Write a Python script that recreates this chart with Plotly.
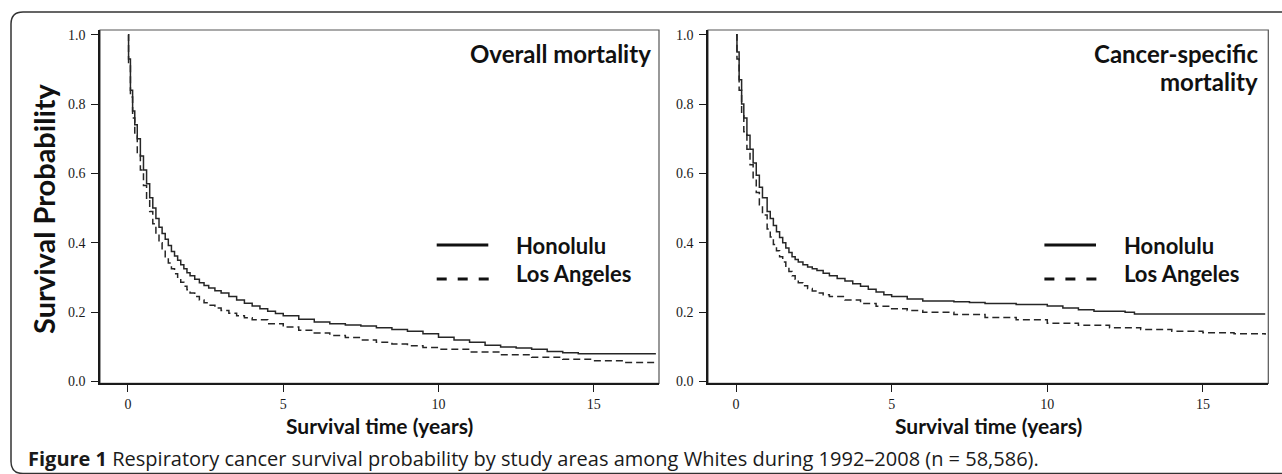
import plotly.graph_objects as go

# ---------------- data ----------------
# Overall mortality panel
om_hon_t = [0, 0.02, 0.08, 0.15, 0.22, 0.3, 0.4, 0.5, 0.6, 0.7, 0.8, 0.9, 1.0, 1.1, 1.2, 1.3, 1.4, 1.5, 1.6, 1.7,
            1.8, 1.9, 2.0, 2.15, 2.3, 2.45, 2.6, 2.8, 3.0, 3.25, 3.5, 3.75, 4.0, 4.25, 4.5, 4.75, 5.0, 5.5, 6.0, 6.5,
            7.0, 7.5, 8.0, 8.5, 9.0, 9.5, 10.0, 10.5, 11.0, 11.5, 12.0, 12.5, 13.0, 13.5, 14.0, 14.5, 17.0]
om_hon_s = [1.0, 0.93, 0.84, 0.78, 0.74, 0.70, 0.65, 0.61, 0.57, 0.53, 0.50, 0.47, 0.445, 0.427, 0.41, 0.392, 0.375,
            0.362, 0.35, 0.337, 0.325, 0.314, 0.305, 0.295, 0.285, 0.277, 0.27, 0.262, 0.255, 0.245, 0.235, 0.226,
            0.218, 0.21, 0.203, 0.196, 0.19, 0.18, 0.172, 0.167, 0.163, 0.16, 0.155, 0.15, 0.145, 0.138, 0.128,
            0.12, 0.113, 0.105, 0.10, 0.097, 0.093, 0.087, 0.083, 0.08, 0.08]
om_la_t = [0, 0.02, 0.08, 0.15, 0.22, 0.3, 0.4, 0.5, 0.6, 0.7, 0.8, 0.9, 1.0, 1.1, 1.2, 1.3, 1.4, 1.5, 1.6, 1.7,
           1.8, 1.9, 2.0, 2.15, 2.3, 2.45, 2.6, 2.8, 3.0, 3.25, 3.5, 3.75, 4.0, 4.5, 5.0, 5.5, 6.0, 6.5, 7.0, 7.5,
           8.0, 8.5, 9.0, 9.5, 10.0, 11.0, 12.0, 13.0, 14.0, 15.0, 16.0, 17.0]
om_la_s = [1.0, 0.92, 0.82, 0.76, 0.71, 0.66, 0.61, 0.565, 0.525, 0.49, 0.455, 0.425, 0.40, 0.38, 0.36, 0.342, 0.325,
           0.311, 0.298, 0.286, 0.275, 0.265, 0.255, 0.245, 0.235, 0.227, 0.22, 0.212, 0.205, 0.197, 0.19, 0.184,
           0.178, 0.167, 0.157, 0.148, 0.14, 0.133, 0.127, 0.12, 0.113, 0.108, 0.103, 0.098, 0.093, 0.085, 0.077,
           0.07, 0.064, 0.06, 0.055, 0.052]

# Cancer-specific mortality panel
cs_hon_t = [0, 0.03, 0.1, 0.18, 0.25, 0.35, 0.45, 0.55, 0.65, 0.75, 0.85, 1.0, 1.1, 1.2, 1.3, 1.4, 1.5, 1.6, 1.7,
            1.8, 1.9, 2.0, 2.15, 2.3, 2.45, 2.6, 2.8, 3.0, 3.25, 3.5, 3.75, 4.0, 4.25, 4.5, 4.75, 5.0, 5.5, 6.0,
            7.0, 7.5, 8.0, 9.0, 10.0, 10.5, 11.0, 11.5, 12.5, 12.8, 17.0]
cs_hon_s = [1.0, 0.95, 0.87, 0.80, 0.76, 0.71, 0.67, 0.63, 0.595, 0.56, 0.53, 0.49, 0.47, 0.45, 0.432, 0.415, 0.40,
            0.385, 0.372, 0.36, 0.352, 0.345, 0.337, 0.33, 0.325, 0.32, 0.312, 0.305, 0.297, 0.29, 0.282, 0.275,
            0.266, 0.258, 0.25, 0.245, 0.238, 0.232, 0.23, 0.228, 0.225, 0.222, 0.218, 0.212, 0.207, 0.203, 0.20,
            0.195, 0.195]
cs_la_t = [0, 0.03, 0.1, 0.18, 0.25, 0.35, 0.45, 0.55, 0.65, 0.75, 0.85, 1.0, 1.1, 1.2, 1.3, 1.4, 1.5, 1.6, 1.7,
           1.8, 1.9, 2.0, 2.15, 2.3, 2.45, 2.6, 2.8, 3.0, 3.5, 4.0, 4.5, 5.0, 5.5, 6.0, 7.0, 8.0, 9.0, 10.0, 11.0,
           12.0, 13.0, 14.0, 15.0, 16.0, 17.0]
cs_la_s = [1.0, 0.93, 0.84, 0.77, 0.72, 0.67, 0.625, 0.585, 0.545, 0.51, 0.48, 0.44, 0.417, 0.395, 0.377, 0.36,
           0.345, 0.33, 0.317, 0.305, 0.295, 0.285, 0.276, 0.268, 0.261, 0.255, 0.25, 0.245, 0.235, 0.225, 0.217,
           0.21, 0.205, 0.20, 0.193, 0.185, 0.178, 0.168, 0.162, 0.155, 0.15, 0.145, 0.141, 0.138, 0.135]

x_ticks = [0, 5, 10, 15]
y_ticks = [0.0, 0.2, 0.4, 0.6, 0.8, 1.0]
y_tick_text = ["0.0", "0.2", "0.4", "0.6", "0.8", "1.0"]
groups = ["Honolulu", "Los Angeles"]
panel_titles = [["Overall mortality"], ["Cancer-specific", "mortality"]]
y_title = "Survival Probability"
x_title = "Survival time (years)"
caption_bold = "Figure 1"
caption_rest = " Respiratory cancer survival probability by study areas among Whites during 1992–2008 (n = 58,586)."

# ---------------- layout helpers ----------------
W, H = 1282, 474
def px(x):
    return x / W
def py(y):
    return 1 - y / H

LINE = "#262626"
SANS = "Lato, 'Open Sans', sans-serif"
CAP = "'Open Sans', Lato, sans-serif"
SERIF = "'Liberation Serif', 'Times New Roman', serif"

fig = go.Figure()

series = [
    (om_hon_t, om_hon_s, "solid", "x", "y"),
    (om_la_t, om_la_s, "7px,4px", "x", "y"),
    (cs_hon_t, cs_hon_s, "solid", "x2", "y2"),
    (cs_la_t, cs_la_s, "7px,4px", "x2", "y2"),
]
for t, s, dash, xa, ya in series:
    fig.add_trace(go.Scatter(x=t, y=s, mode="lines", line_shape="hv",
                             line=dict(color=LINE, width=1.5, dash=dash),
                             xaxis=xa, yaxis=ya, showlegend=False, hoverinfo="skip"))

# panel pixel geometry
left_dom = [px(100), px(659)]
right_dom = [px(708), px(1268.3)]
y_dom = [py(383.3), py(30)]

axis_common = dict(showline=True, linecolor="#1a1a1a", linewidth=1.5, ticks="outside", ticklen=7,
                   tickwidth=1.3, tickcolor="#1a1a1a", showgrid=False, zeroline=False, automargin=False,
                   tickfont=dict(family=SERIF, size=14, color="#1a1a1a"))
xcommon = dict(axis_common, range=[-0.9, 17.1], tickvals=x_ticks, ticklabelstandoff=0)
ycommon = dict(axis_common, range=[-0.005, 1.0135], tickvals=y_ticks, ticktext=y_tick_text,
               ticklabelstandoff=3)

fig.update_layout(
    width=W, height=H, margin=dict(l=0, r=0, t=0, b=0, autoexpand=False),
    paper_bgcolor="white", plot_bgcolor="white",
    xaxis=dict(xcommon, domain=left_dom, anchor="y"),
    yaxis=dict(ycommon, domain=y_dom, anchor="x"),
    xaxis2=dict(xcommon, domain=right_dom, anchor="y2"),
    yaxis2=dict(ycommon, domain=y_dom, anchor="x2"),
)

shapes = []
annotations = []
panels = [(left_dom, 0.0), (right_dom, 607.7)]
for i, (dom, off) in enumerate(panels):
    # box around the plot area (top/right in grey)
    shapes.append(dict(type="rect", xref="paper", yref="paper", x0=dom[0], x1=dom[1], y0=y_dom[0], y1=y_dom[1],
                       line=dict(color="#555555", width=1.2), layer="below"))
    # legend lines
    shapes.append(dict(type="line", xref="paper", yref="paper", x0=px(436.7 + off), x1=px(488.3 + off),
                       y0=py(245), y1=py(245), line=dict(color="#111111", width=3)))
    shapes.append(dict(type="line", xref="paper", yref="paper", x0=px(436.7 + off), x1=px(489 + off),
                       y0=py(279), y1=py(279), line=dict(color="#111111", width=3, dash="10px,11px")))
    annotations.append(dict(text=groups[0], xref="paper", yref="paper", x=px(514 + off), y=py(245),
                            xanchor="left", yanchor="middle", showarrow=False,
                            font=dict(family=SANS, size=22, color="#111111", weight="bold")))
    annotations.append(dict(text=groups[1], xref="paper", yref="paper", x=px(514 + off), y=py(273),
                            xanchor="left", yanchor="middle", showarrow=False,
                            font=dict(family=SANS, size=22, color="#111111", weight="bold")))
    # panel titles
    right_edge = 653 if i == 0 else 1260
    for j, line in enumerate(panel_titles[i]):
        annotations.append(dict(text=line, xref="paper", yref="paper", x=px(right_edge), y=py(54 + 27 * j),
                                xanchor="right", yanchor="middle", showarrow=False,
                                font=dict(family=SANS, size=24, color="#111111", weight="bold")))
    # x-axis title
    annotations.append(dict(text=x_title, xref="paper", yref="paper", x=(dom[0] + dom[1]) / 2, y=py(425),
                            xanchor="center", yanchor="middle", showarrow=False,
                            font=dict(family=SANS, size=21, color="#111111", weight="bold")))

# y-axis title
annotations.append(dict(text=y_title, xref="paper", yref="paper", x=px(43), y=py(209), textangle=-90,
                        xanchor="center", yanchor="middle", showarrow=False,
                        font=dict(family=SANS, size=29, color="#111111", weight="bold")))
# caption
annotations.append(dict(text="<b>" + caption_bold + "</b>" + caption_rest, xref="paper", yref="paper",
                        x=px(26), y=py(458), xanchor="left", yanchor="middle", showarrow=False,
                        font=dict(family=CAP, size=20, color="#1a1a1a")))

# outer rounded frame (top-left, left side, bottom-left)
r = 12
fx0, fy0, fx1, fy1 = 11, 12, 1300, 473.5
path = (f"M {px(fx1)},{py(fy0)} L {px(fx0 + r)},{py(fy0)} "
        f"Q {px(fx0)},{py(fy0)} {px(fx0)},{py(fy0 + r)} "
        f"L {px(fx0)},{py(fy1 - r)} Q {px(fx0)},{py(fy1)} {px(fx0 + r)},{py(fy1)} L {px(fx1)},{py(fy1)}")
shapes.append(dict(type="path", xref="paper", yref="paper", path=path, line=dict(color="#333333", width=1.5)))

fig.update_layout(shapes=shapes, annotations=annotations)
fig.write_html("out.html", config={"displayModeBar": False},
               post_script="document.body.style.margin='0';document.body.style.overflow='hidden';")
